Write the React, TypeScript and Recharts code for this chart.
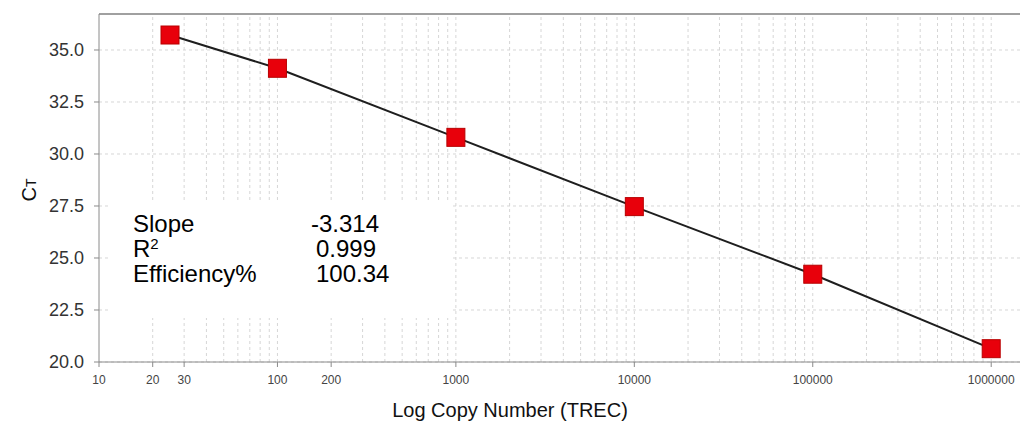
import React from 'react';
import { ScatterChart, Scatter, XAxis, YAxis, CartesianGrid, ReferenceLine, Label } from 'recharts';

// standard curve points (copy number vs Ct)
const copyNumbers = [25, 100, 1000, 10000, 100000, 1000000];
const ctValues = [35.72, 34.12, 30.8, 27.47, 24.22, 20.64];

const xTicks = [10, 20, 30, 100, 200, 1000, 10000, 100000, 1000000];
const yTicks = [20, 22.5, 25, 27.5, 30, 32.5, 35];
const decades = [10, 100, 1000, 10000, 100000];
const multipliers = [2, 3, 4, 5, 6, 7, 8, 9, 10];

const statLabels = ['Slope', 'R', 'Efficiency%'];
const statValues = ['-3.314', '0.999', '100.34'];

const data = copyNumbers.map((x, i) => ({ x, y: ctValues[i] }));
const gridValues = decades.flatMap((d) => multipliers.map((m) => d * m));

const Y_MAX = 36.73;
const font = '"Liberation Sans", Arial, sans-serif';

const Square = (props: any) => {
  const { cx, cy } = props;
  return <rect x={cx - 9} y={cy - 9} width={18} height={18} fill="#e8000b" stroke="#b80000" strokeWidth={1} />;
};

const YLabel = () => (
  <text x={36} y={190} transform="rotate(-90 36 190)" textAnchor="middle" fontFamily={font} fontSize={20} fill="#111">
    C<tspan fontSize={14}>T</tspan>
  </text>
);

const App: React.FC = () => {
  return (
    <div style={{ position: 'absolute', left: 0, top: 0, width: 1020, height: 426, background: '#fff' }}>
      <ScatterChart width={1020} height={426} margin={{ top: 14, right: 0, bottom: 0, left: 0 }}>
        <CartesianGrid vertical={false} stroke="#d6d6d6" strokeDasharray="3 3" />
        {gridValues.map((v) => (
          <ReferenceLine key={v} x={v} stroke="#d6d6d6" strokeDasharray="3 3" ifOverflow="hidden" />
        ))}
        <ReferenceLine y={Y_MAX} stroke="#a0a0a0" strokeWidth={2} />
        <XAxis
          type="number"
          dataKey="x"
          scale="log"
          domain={[10, 1450000]}
          ticks={xTicks}
          interval={0}
          allowDataOverflow
          height={64}
          stroke="#8a8a8a"
          tickSize={5}
          tickMargin={8}
          tick={{ fill: '#444', fontSize: 12, fontFamily: font }}
        >
          <Label
            content={() => (
              <text x={510} y={417} textAnchor="middle" fontFamily={font} fontSize={20} fill="#111">
                Log Copy Number (TREC)
              </text>
            )}
          />
        </XAxis>
        <YAxis
          type="number"
          dataKey="y"
          domain={[20, Y_MAX]}
          ticks={yTicks}
          interval={0}
          allowDataOverflow
          width={99}
          stroke="#8a8a8a"
          tickSize={5}
          tickMargin={10}
          tickFormatter={(v: number) => v.toFixed(1)}
          tick={{ fill: '#333', fontSize: 18, fontFamily: font }}
        >
          <Label content={YLabel} />
        </YAxis>
        <Scatter
          data={data}
          line={{ stroke: '#1e1e1e', strokeWidth: 2 }}
          lineType="joint"
          shape={Square}
          isAnimationActive={false}
        />
      </ScatterChart>
      <div
        style={{
          position: 'absolute',
          left: 108,
          top: 202,
          width: 344,
          height: 116,
          background: '#fff',
          fontFamily: font,
          fontSize: 24,
          color: '#000',
        }}
      >
        {statLabels.map((s, i) => (
          <div key={s} style={{ position: 'absolute', left: 25, top: 9 + i * 25, lineHeight: '25px' }}>
            {s}
            {s === 'R' ? <sup style={{ fontSize: 15, verticalAlign: 'top', lineHeight: '15px' }}>2</sup> : null}
          </div>
        ))}
        {statValues.map((v, i) => (
          <div
            key={v}
            style={{ position: 'absolute', left: i === 0 ? 203 : 208, top: 9 + i * 25, lineHeight: '25px' }}
          >
            {v}
          </div>
        ))}
      </div>
    </div>
  );
};

export default App;
